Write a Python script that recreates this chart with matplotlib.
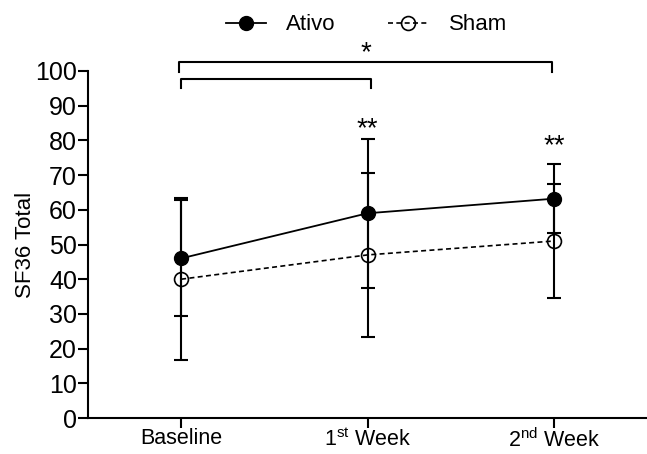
import numpy as np
import matplotlib
matplotlib.use("Agg")
import matplotlib.pyplot as plt

plt.rcParams['font.family'] = ['Liberation Sans', 'DejaVu Sans']
plt.rcParams['mathtext.fontset'] = 'custom'
plt.rcParams['mathtext.rm'] = 'Liberation Sans'

# data
timepoints = ["Baseline", r"1$^{\mathrm{st}}$ Week", r"2$^{\mathrm{nd}}$ Week"]
ativo_mean = [46.0, 59.0, 63.2]
ativo_sd = [16.7, 21.5, 10.0]
sham_mean = [40.0, 47.0, 51.0]
sham_sd = [23.3, 23.7, 16.3]

# significance marks
bracket_long = [-0.01, 1.99, 102.5, 99.6]
bracket_short = [0.0, 1.02, 97.7, 95.1]
star_labels = ["*", "**", "**"]
star_x = [0.99, 1.0, 2.0]
star_y = [105.0, 83.2, 78.3]

x = np.arange(len(timepoints))

fig = plt.figure(figsize=(6.47, 4.54), dpi=100)
ax = fig.add_axes([88 / 647, 36 / 454, 559 / 647, 347 / 454])

ax.errorbar(x, ativo_mean, yerr=ativo_sd, fmt='none', ecolor='black',
            elinewidth=1.5, capsize=5, capthick=1.5, zorder=2)
ax.errorbar(x, sham_mean, yerr=sham_sd, fmt='none', ecolor='black',
            elinewidth=1.5, capsize=5, capthick=1.5, zorder=2)
ax.plot(x, ativo_mean, color='black', marker='o', markersize=10,
        linewidth=1.3, label='Ativo', zorder=3)
ax.plot(x, sham_mean, color='black', marker='o', markersize=10,
        markerfacecolor='none', markeredgewidth=1.2,
        linestyle=(0, (3, 2)), linewidth=1.2, label='Sham', zorder=3)

for b in (bracket_long, bracket_short):
    ax.plot([b[0], b[0], b[1], b[1]], [b[3], b[2], b[2], b[3]],
            color='black', linewidth=1.5, clip_on=False)

for lab, sx, sy in zip(star_labels, star_x, star_y):
    ax.text(sx, sy, lab, ha='center', va='center', fontsize=20)

ax.set_xlim(-0.5, 2.5)
ax.set_ylim(0, 100)
ax.set_yticks(np.arange(0, 101, 10))
ax.set_xticks(x)
ax.set_xticklabels(timepoints, fontsize=15.5)
ax.tick_params(axis='y', labelsize=18, length=7, width=1.5, pad=1)
ax.tick_params(axis='x', length=7, width=1.5, pad=0.5)
ax.set_ylabel("SF36 Total", fontsize=16, labelpad=-1)

for s in ('top', 'right'):
    ax.spines[s].set_visible(False)
for s in ('left', 'bottom'):
    ax.spines[s].set_linewidth(1.5)

fig.legend(loc='center', bbox_to_anchor=(0.566, 0.945), ncol=2, frameon=False,
           fontsize=16, handlelength=1.8, handletextpad=0.9, columnspacing=2.4)

fig.savefig("out.png", dpi=100)
